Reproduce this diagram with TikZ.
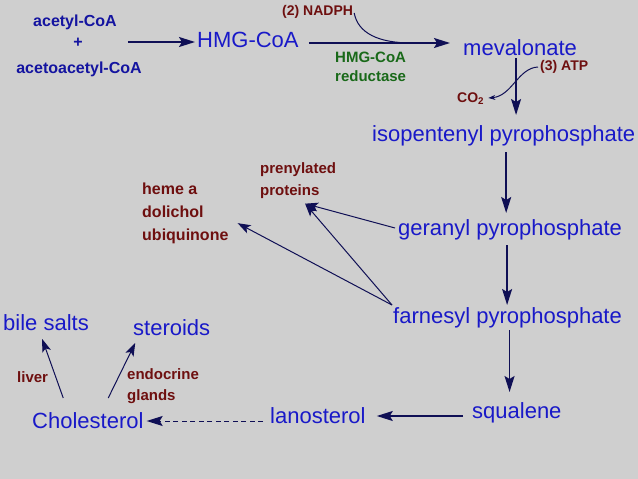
\documentclass[tikz,border=0pt]{standalone}
\usepackage{fontspec}
\setmainfont{Liberation Sans}
\usepackage{xcolor}
\usepackage{tikz}
\usetikzlibrary{arrows.meta}
\definecolor{bggray}{RGB}{207,207,207}
\definecolor{molblue}{RGB}{25,25,200}
\definecolor{smallblue}{RGB}{20,20,160}
\definecolor{cofred}{RGB}{110,15,15}
\definecolor{enzgreen}{RGB}{25,105,25}
\definecolor{arrowblue}{RGB}{15,15,85}
\tikzset{
    mol/.style={font=\fontsize{22}{26}\selectfont, text=molblue, inner sep=0pt, anchor=base west},
    note/.style={font=\bfseries\fontsize{15}{22}\selectfont, text=cofred, inner sep=0pt, anchor=base west, align=left},
    flow/.style={draw=arrowblue, line width=1.5pt, -{Stealth[length=16pt,width=10pt,inset=3pt]}},
    side/.style={draw=arrowblue, line width=1pt, -{Stealth[length=13pt,width=9pt,inset=3pt]}},
    link/.style={draw=arrowblue, line width=1pt}
}

\begin{document}
\begin{tikzpicture}[x=1pt, y=-1pt]
        \fill[bggray] (0,0) rectangle (638,479);

        % start of the pathway
        \node[note, text=smallblue, anchor=base, font=\bfseries\fontsize{16}{22}\selectfont] (acetyl) at (75,27) {acetyl-CoA};
        \node[note, text=smallblue, anchor=base, font=\bfseries\fontsize{16}{22}\selectfont] (plus) at (78,47) {+};
        \node[note, text=smallblue, anchor=base, font=\bfseries\fontsize{16}{22}\selectfont] (acac) at (79,73) {acetoacetyl-CoA};

        \node[mol] (hmg) at (197,47) {HMG-CoA};
        \node[mol] (meva) at (463,55) {mevalonate};
        \node[mol] (ipp) at (372,141) {isopentenyl pyrophosphate};
        \node[mol] (gpp) at (398,235) {geranyl pyrophosphate};
        \node[mol] (fpp) at (393,323) {farnesyl pyrophosphate};
        \node[mol] (sq) at (472,418) {squalene};
        \node[mol] (lan) at (270,423) {lanosterol};
        \node[mol] (chol) at (32,428) {Cholesterol};
        \node[mol] (bile) at (3,330) {bile salts};
        \node[mol] (ster) at (133,335) {steroids};

        % cofactors, enzymes, side products
        \node[note, font=\bfseries\fontsize{14}{17}\selectfont] (nadph) at (282,16) {(2) NADPH};
        \node[note, text=enzgreen, anchor=north west, font=\bfseries\fontsize{15}{19}\selectfont] (hmgr) at (335,52.3) {HMG-CoA\\reductase};
        \node[note, font=\bfseries\fontsize{14}{17}\selectfont] (atp) at (540,70) {(3) ATP};
        \node[note, font=\bfseries\fontsize{14}{17}\selectfont] (co2) at (457,102) {CO\textsubscript{2}};
        \node[note, anchor=north west] (prot) at (260,162.3) {prenylated\\proteins};
        \node[note, anchor=north west, font=\bfseries\fontsize{16}{23}\selectfont] (heme) at (142,182.5) {heme a\\dolichol\\ubiquinone};
        \node[note] (liver) at (17,382) {liver};
        \node[note, anchor=north west, font=\bfseries\fontsize{15}{21}\selectfont] (endo) at (127,368.3) {endocrine\\glands};

        \draw[flow] ([xshift=45pt,yshift=5pt]plus.base east) -- ([xshift=-2pt,yshift=5pt]hmg.base west);
        \draw[flow] ([xshift=10pt,yshift=4pt]hmg.base east) -- ([xshift=-13pt,yshift=12pt]meva.base west);
        \coordinate (nadjoin) at (412,43);
        \draw[link] ([xshift=1pt,yshift=3pt]nadph.base east) .. controls (358,33) and (378,43) .. (nadjoin);

        \draw[flow, shorten >=29pt] ([xshift=-4pt,yshift=-3pt]meva.base) -- ([xshift=-4pt,yshift=-3pt]meva.base |- ipp.base);
        \draw[link, -{Stealth[length=7pt,width=5pt]}] ([xshift=-2pt,yshift=3pt]atp.base west) .. controls (518,68) and (512,96) .. ([xshift=4pt,yshift=4pt]co2.base east);

        \draw[flow, shorten >=33pt] ([xshift=2.5pt,yshift=-11pt]ipp.base) -- ([xshift=2.5pt,yshift=-11pt]ipp.base |- gpp.base);
        \draw[flow, shorten >=28pt] ([xshift=-3pt,yshift=-10pt]gpp.base) -- ([xshift=-3pt,yshift=-10pt]gpp.base |- fpp.base);
        \draw[flow, shorten >=33pt] ([xshift=2pt,yshift=-7pt]fpp.base) -- ([xshift=2pt,yshift=-7pt]fpp.base |- sq.base);
        \draw[flow, shorten >=20pt] ([xshift=-9pt,yshift=2pt]sq.base west) -- ([xshift=-9pt,yshift=2pt]sq.base west -| lan.base east);
        \draw[flow, line width=1pt, dash pattern=on 5pt off 3.5pt, shorten >=10pt] ([xshift=-7pt,yshift=2pt]lan.base west) -- ([xshift=-7pt,yshift=2pt]lan.base west -| chol.base east);

        % branches
        \draw[side] ([xshift=-24.6pt,yshift=30pt]chol.base) -- ([xshift=-3.8pt,yshift=-9pt]bile.base);
        \draw[side] ([xshift=20.4pt,yshift=30pt]chol.base) -- ([xshift=-36.5pt,yshift=-8pt]ster.base);
        \draw[side] ([xshift=-3pt,yshift=7pt]gpp.base west) -- ([xshift=7pt,yshift=-5pt]prot.south);
        \draw[side] ([xshift=-1pt,yshift=18pt]fpp.base west) -- ([xshift=7pt,yshift=-5pt]prot.south);
        \draw[side] ([xshift=-1pt,yshift=18pt]fpp.base west) -- ([xshift=9pt,yshift=-10pt]heme.east);
\end{tikzpicture}
\end{document}
